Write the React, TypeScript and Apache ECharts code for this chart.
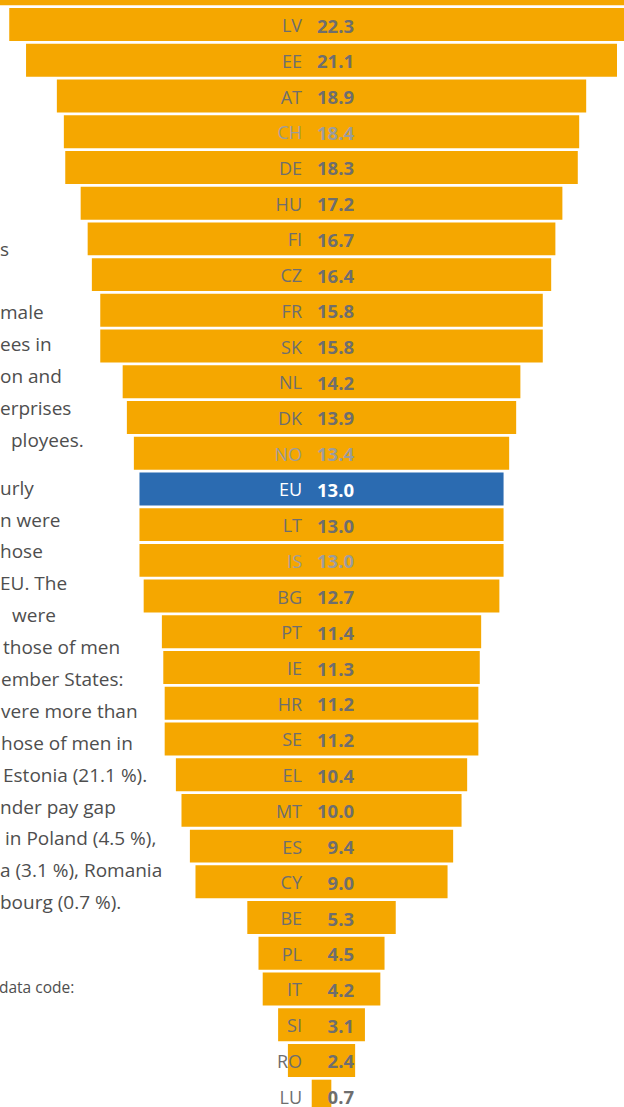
import React, { useEffect, useRef } from "react";
import * as echarts from "echarts";

// Countries (top row is a clipped bar from the previous part of the chart)
const codes = [
  "", "LV", "EE", "AT", "CH", "DE", "HU", "FI", "CZ", "FR", "SK", "NL", "DK", "NO",
  "EU", "LT", "IS", "BG", "PT", "IE", "HR", "SE", "EL", "MT", "ES", "CY",
  "BE", "PL", "IT", "SI", "RO", "LU",
];
const gapValues = [
  24.0, 22.3, 21.1, 18.9, 18.4, 18.3, 17.2, 16.7, 16.4, 15.8, 15.8, 14.2, 13.9, 13.4,
  13.0, 13.0, 13.0, 12.7, 11.4, 11.3, 11.2, 11.2, 10.4, 10.0, 9.4, 9.0,
  5.3, 4.5, 4.2, 3.1, 2.4, 0.7,
];
const nonEU = ["CH", "NO", "IS"];
const euAverage = "EU";

// Paragraph fragments visible at the left edge
const textLines: [string, number, number][] = [
  ["s", 0, 251],
  ["male", 0, 314],
  ["ees in", 0, 346],
  ["on and", 0, 378],
  ["erprises", 0, 410],
  ["ployees.", 11, 442],
  ["urly", 0, 490],
  ["n were", 0, 522],
  ["hose", 0, 553],
  ["EU. The", 0, 585],
  ["were", 12, 617],
  ["those of men", 3, 649],
  ["ember States:", 1, 681],
  ["vere more than", 1, 713],
  ["hose of men in", 1, 745],
  ["Estonia (21.1 %).", 3, 777],
  ["nder pay gap", 0, 809],
  ["in Poland (4.5 %),", 5, 840],
  ["a (3.1 %), Romania", 0, 872],
  ["bourg (0.7 %).", 0, 904],
];

const ORANGE = "#F5A700";
const BLUE = "#2B6BB1";
const FONT = '"Open Sans", "Noto Sans", sans-serif';
const OFFSET = 29; // chart div starts above the page top

export default function App() {
  const ref = useRef<HTMLDivElement>(null);
  useEffect(() => {
    if (!ref.current) return;
    const chart = echarts.init(ref.current, undefined, { renderer: "svg" });
    const data = gapValues.map((v, i) => [i, v, codes[i]]);
    const graphics: any[] = textLines.map(([t, x, y]) => ({
      type: "text",
      left: x,
      top: y - 12 + OFFSET,
      z: 1,
      style: { text: t, font: `19px ${FONT}`, fill: "#4e4e4e" },
    }));
    graphics.push({
      type: "text",
      left: -1,
      top: 990 - 11 + OFFSET,
      z: 1,
      style: { text: "data code:", font: `15.5px ${FONT}`, fill: "#4e4e4e" },
    });
    chart.setOption({
      animation: false,
      grid: { left: 0, right: 0, top: 0, bottom: 0 },
      xAxis: { type: "value", min: -11.48, max: 10.8, show: false },
      yAxis: {
        type: "category",
        inverse: true,
        data: codes,
        show: false,
      },
      graphic: graphics,
      series: [
        {
          type: "custom",
          clip: false,
          data,
          encode: { x: 1, y: 0 },
          renderItem: (params: any, api: any) => {
            const i = api.value(0);
            const v = api.value(1);
            const code = codes[i];
            const l = api.coord([-v / 2, i]);
            const r = api.coord([v / 2, i]);
            const c = api.coord([0, i]);
            const h = api.size([0, 1])[1] * 0.922;
            const isAvg = code === euAverage;
            const light = nonEU.includes(code);
            const txtColor = isAvg ? "#ffffff" : light ? "#9c9c9c" : "#6e6e6e";
            const children: any[] = [
              {
                type: "rect",
                shape: { x: l[0], y: l[1] - h / 2, width: r[0] - l[0], height: h },
                style: { fill: isAvg ? BLUE : ORANGE },
              },
            ];
            if (code) {
              children.push(
                {
                  type: "text",
                  z2: 10,
                  style: {
                    text: code,
                    x: c[0] - 19.5,
                    y: c[1] + 0.5,
                    align: "right",
                    verticalAlign: "middle",
                    font: `18px ${FONT}`,
                    fill: txtColor,
                  },
                },
                {
                  type: "text",
                  z2: 10,
                  style: {
                    text: v.toFixed(1),
                    x: c[0] + 32.5,
                    y: c[1] + 0.5,
                    align: "right",
                    verticalAlign: "middle",
                    font: `bold 18.5px ${FONT}`,
                    fill: txtColor,
                  },
                }
              );
            }
            return { type: "group", children };
          },
        },
      ],
    });
    return () => chart.dispose();
  }, []);
  return (
    <div
      ref={ref}
      style={{
        position: "absolute",
        left: 0,
        top: -OFFSET,
        width: 624,
        height: 1143,
        background: "#ffffff",
      }}
    />
  );
}
